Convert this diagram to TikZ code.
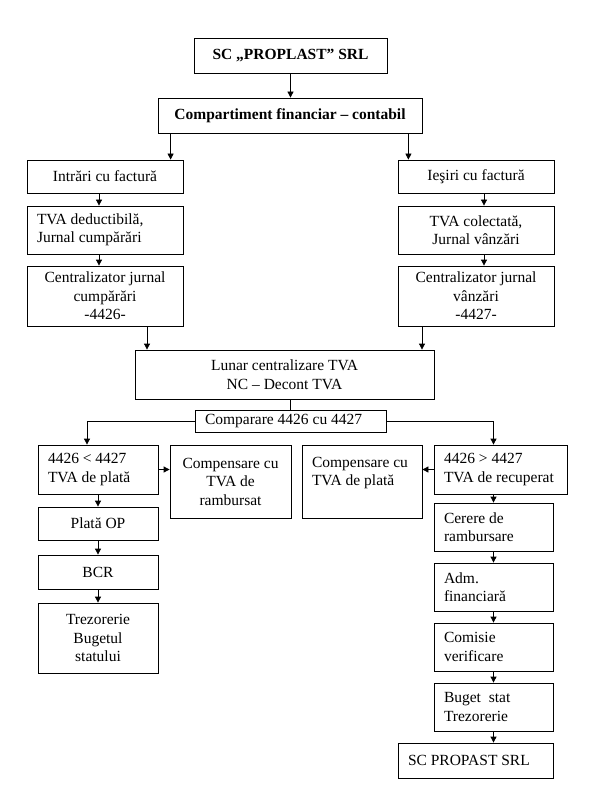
\documentclass[tikz,border=0pt]{standalone}
\usepackage{fontspec}
\setmainfont{Liberation Serif}
\usetikzlibrary{arrows.meta}
\begin{document}
\begin{tikzpicture}[x=1pt,y=-1pt,
  box/.style = {draw, line width=0.8pt, inner sep=0pt, align=center, font=\fontsize{15.5}{18.5}\selectfont},
  bbox/.style = {box, font=\fontsize{15.5}{18.5}\selectfont\bfseries},
  lbox/.style = {box, align=flush left, inner xsep=10pt, text width=#1},
  arr/.style = {-{Triangle[length=6pt,width=6pt]}, line width=0.8pt},
  node distance={60pt}]
\useasboundingbox (0,0) rectangle (594,810);
\node[bbox] (sc) [minimum width=193pt, minimum height=35pt] at (290.5,55.5) {SC „PROPLAST” SRL};
\node[bbox] (comp) [minimum width=264pt, minimum height=35pt] at (290,115.5) {Compartiment financiar – contabil};
\node[box] (intrari) [minimum width=156pt, minimum height=33pt] at (105,176.5) {Intrări cu factură};
\node[lbox=136pt] (tvad) [minimum height=48pt] at (105,230) {TVA deductibilă,\\Jurnal cumpărări};
\node[box] (cjc) [minimum width=156pt, minimum height=60pt] at (105,296) {Centralizator jurnal\\cumpărări\\-4426-};
\node[box] (iesiri) [minimum width=156pt, minimum height=33pt] at (476,176.5) {Ieşiri cu factură};
\node[box] (tvac) [minimum width=156pt, minimum height=48pt] at (476,230) {TVA colectată,\\Jurnal vânzări};
\node[box] (cjv) [minimum width=156pt, minimum height=60pt] at (476,296) {Centralizator jurnal\\vânzări\\-4427-};
\node[box] (lunar) [minimum width=299pt, minimum height=49pt] at (284.5,374.5) {Lunar centralizare TVA\\NC – Decont TVA};
\node[lbox=171pt] (comparare) [minimum height=22pt] at (290.5,421) {Comparare 4426 cu 4427};
\node[lbox=100pt] (plata) [minimum height=49pt] at (98,469.5) {4426 < 4427\\TVA de plată};
\node[box] (comprb) [minimum width=121pt, minimum height=73pt] at (230.5,481.5) {Compensare cu\\TVA de\\rambursat};
\node[lbox=100pt] (comptp) [text height=22pt, text depth=51pt] at (362,481.5) {Compensare cu\\TVA de plată};
\node[lbox=113pt] (recup) [minimum height=49pt] at (500.5,469.5) {4426 > 4427\\TVA de recuperat};
\node[box] (op) [minimum width=120pt, minimum height=33pt] at (98,523.5) {Plată OP};
\node[box] (bcr) [minimum width=120pt, minimum height=34pt] at (98,572) {BCR};
\node[box] (trez) [minimum width=120pt, minimum height=70pt] at (98,638) {Trezorerie\\Bugetul\\statului};
\node[lbox=99pt] (cerere) [minimum height=48pt] at (493.5,527) {Cerere de\\rambursare};
\node[lbox=99pt] (adm) [minimum height=48pt, below of=cerere] {Adm.\\financiară};
\node[lbox=99pt] (comisie) [minimum height=48pt, below of=adm] {Comisie\\verificare};
\node[lbox=99pt] (buget) [minimum height=48pt, below of=comisie] {Buget\ \ stat\\Trezorerie};
\node[lbox=135pt] (scp) [minimum height=35pt] at (475.5,760.5) {SC PROPAST SRL};
\draw[arr] (sc.south) -- (sc.south |- comp.north);
\draw[arr] ([xshift=13pt]comp.south west) -- ([xshift=13pt]comp.south west |- intrari.north);
\draw[arr] ([xshift=-14pt]comp.south east) -- ([xshift=-14pt]comp.south east |- iesiri.north);
\draw[arr] ([xshift=-6pt]intrari.south) -- ([xshift=-6pt]tvad.north);
\draw[arr] ([xshift=-6pt]tvad.south) -- ([xshift=-6pt]cjc.north);
\draw[arr] ([xshift=8pt]iesiri.south) -- ([xshift=8pt]tvac.north);
\draw[arr] ([xshift=8pt]tvac.south) -- ([xshift=8pt]cjv.north);
\draw[arr] ([xshift=42pt]cjc.south) -- ([xshift=42pt]cjc.south |- lunar.north);
\draw[arr] ([xshift=-54pt]cjv.south) -- ([xshift=-54pt]cjv.south |- lunar.north);
\draw[line width=0.8pt] (lunar.south -| comparare.north) -- (comparare.north);
\draw[arr] (comparare.west) -| ([xshift=-11pt]plata.north);
\draw[arr] (comparare.east) -| (cerere.north |- recup.north);
\draw[arr] (plata.east) -- (plata.east -| comprb.west);
\draw[arr] (recup.west) -- (recup.west -| comptp.east);
\draw[arr] (plata) -- (op);
\draw[arr] (op) -- (bcr);
\draw[arr] (bcr) -- (trez);
\draw[arr] (recup.south -| cerere.north) -- (cerere.north);
\draw[arr] (cerere) -- (adm);
\draw[arr] (adm) -- (comisie);
\draw[arr] (comisie) -- (buget);
\draw[arr] (buget.south) -- (buget.south |- scp.north);
\end{tikzpicture}
\end{document}
